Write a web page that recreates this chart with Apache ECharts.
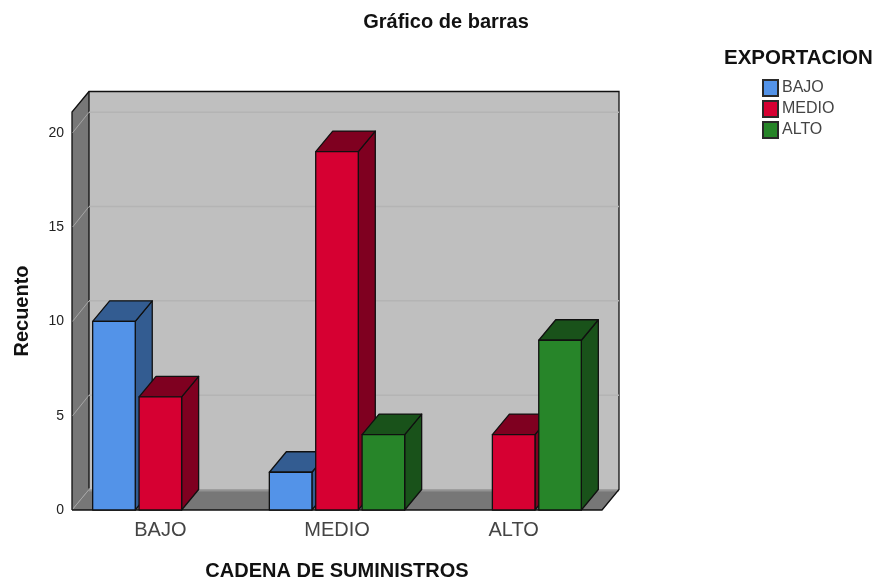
<!DOCTYPE html>
<html><head><meta charset="utf-8">
<style>html,body{margin:0;padding:0;background:#fff}#c{width:876px;height:578px}</style>
<script src="https://cdn.jsdelivr.net/npm/echarts@6/dist/echarts.min.js"></script>
</head><body><div id="c"></div>
<script>
const categories = ['BAJO', 'MEDIO', 'ALTO'];
const bajo = [10, 2, null];
const medio = [6, 19, 4];
const alto = [null, 4, 9];
const yTicks = [0, 5, 10, 15, 20];
const seriesNames = ['BAJO', 'MEDIO', 'ALTO'];
const FONT = '"Liberation Sans", Arial, sans-serif';
const DX = 17, DY = -20.5;
const palette = [
  { front: '#5393e8', dark: '#335c91' },
  { front: '#d60032', dark: '#7f0020' },
  { front: '#278529', dark: '#19521a' }
];
const line = '#101010';

function barRender(slot, shades) {
  return function (params, api) {
    const base = api.coord([api.value(0), 0]);
    const top = api.coord([api.value(0), api.value(1)]);
    const band = api.size([1, 0])[0];
    const cx = base[0] + slot * band * 0.2625;
    const w = band * 0.241;
    const l = cx - w / 2, r = cx + w / 2, t = top[1], b = base[1];
    const st = (fill) => ({ fill: fill, stroke: line, lineWidth: 1.3, lineJoin: 'round' });
    return { type: 'group', children: [
      { type: 'polygon', shape: { points: [[r, b], [r + DX, b + DY], [r + DX, t + DY], [r, t]] }, style: st(shades.dark) },
      { type: 'polygon', shape: { points: [[l, t], [r, t], [r + DX, t + DY], [l + DX, t + DY]] }, style: st(shades.dark) },
      { type: 'rect', shape: { x: l, y: t, width: w, height: b - t }, style: st(shades.front) }
    ] };
  };
}
function wallRender(params, api) {
  const cs = params.coordSys;
  const L = cs.x, R = cs.x + cs.width, T = cs.y, B = cs.y + cs.height;
  const y = api.coord([0, api.value(0)])[1];
  const kids = [];
  if (api.value(0) === 0) {
    kids.push(
      { type: 'rect', shape: { x: L + DX, y: T + DY, width: R - L, height: B - T }, style: { fill: '#bfbfbf' } },
      { type: 'polygon', shape: { points: [[L, T], [L + DX, T + DY], [L + DX, B + DY], [L, B]] }, style: { fill: '#777777' } },
      { type: 'polygon', shape: { points: [[L, B], [R, B], [R + DX, B + DY], [L + DX, B + DY]] }, style: { fill: '#777777' } },
      { type: 'line', shape: { x1: L + DX, y1: B + DY + 1, x2: R + DX, y2: B + DY + 1 }, style: { stroke: '#929292', lineWidth: 2 } },
      { type: 'line', shape: { x1: L, y1: B, x2: L + DX, y2: B + DY }, style: { stroke: '#a6a6a6', lineWidth: 1 } },
      { type: 'polyline', shape: { points: [[L, B], [L, T], [L + DX, T + DY], [R + DX, T + DY], [R + DX, B + DY], [R, B], [L, B]] }, style: { fill: 'none', stroke: line, lineWidth: 1.3 } },
      { type: 'line', shape: { x1: L + DX, y1: T + DY, x2: L + DX, y2: B + DY - 1 }, style: { stroke: line, lineWidth: 1.3 } }
    );
  } else {
    kids.push(
      { type: 'line', shape: { x1: L + DX, y1: y + DY, x2: R + DX, y2: y + DY }, style: { stroke: '#b4b4b4', lineWidth: 1.5 } },
      { type: 'line', shape: { x1: L + 0.6, y1: y, x2: L + DX, y2: y + DY }, style: { stroke: '#a6a6a6', lineWidth: 1 } }
    );
  }
  return { type: 'group', children: kids };
}
function toData(arr) {
  return arr.map((v, i) => [i, v]).filter(d => d[1] !== null);
}
const groups = [bajo, medio, alto];

const chart = echarts.init(document.getElementById('c'), null, { renderer: 'canvas' });
chart.setOption({
  animation: false,
  backgroundColor: '#ffffff',
  title: [
    { text: 'Gráfico de barras', left: 446, top: 12, textAlign: 'center', padding: 0,
      textStyle: { fontFamily: FONT, fontSize: 20, fontWeight: 'bold', color: '#111' } },
    { text: 'EXPORTACION', left: 724, top: 48, padding: 0,
      textStyle: { fontFamily: FONT, fontSize: 20.5, fontWeight: 'bold', color: '#111' } }
  ],
  legend: {
    orient: 'vertical', left: 762, top: 79, padding: 0, itemWidth: 15, itemHeight: 16, itemGap: 3, itemSpacing: 4,
    icon: 'rect', data: seriesNames,
    textStyle: { fontFamily: FONT, fontSize: 16, lineHeight: 16, height: 16, color: '#444', padding: [2, 0, 0, -1] }
  },
  grid: { left: 72, right: 274, top: 112, bottom: 68, outerBoundsMode: 'none' },
  xAxis: {
    type: 'category', data: categories,
    name: 'CADENA DE SUMINISTROS', nameLocation: 'middle', nameGap: 51,
    nameTextStyle: { fontFamily: FONT, fontSize: 20, fontWeight: 'bold', color: '#111' },
    axisLine: { show: false }, axisTick: { show: false },
    axisLabel: { fontFamily: FONT, fontSize: 20, color: '#444', margin: 10 }
  },
  yAxis: {
    type: 'value', min: 0, max: 21.1, interval: 5,
    name: 'Recuento', nameLocation: 'middle', nameGap: 40, nameRotate: 90,
    nameTextStyle: { fontFamily: FONT, fontSize: 20, fontWeight: 'bold', color: '#111' },
    axisLine: { show: false }, axisTick: { show: false }, splitLine: { show: false },
    axisLabel: { fontFamily: FONT, fontSize: 14, color: '#222', margin: 8, showMaxLabel: false }
  },
  series: [
    { type: 'custom', silent: true, coordinateSystem: 'cartesian2d', clip: false,
      data: yTicks.map(v => [v]), encode: { y: 0 }, renderItem: wallRender, z: 1 }
  ].concat(seriesNames.map((name, i) => ({
    type: 'custom', name: name, coordinateSystem: 'cartesian2d', clip: false,
    data: toData(groups[i]), encode: { x: 0, y: 1 },
    itemStyle: { color: palette[i].front, borderColor: '#2a2a2a', borderWidth: 1 },
    renderItem: barRender(i - 1, palette[i]), z: 2
  })))
});
</script></body></html>
